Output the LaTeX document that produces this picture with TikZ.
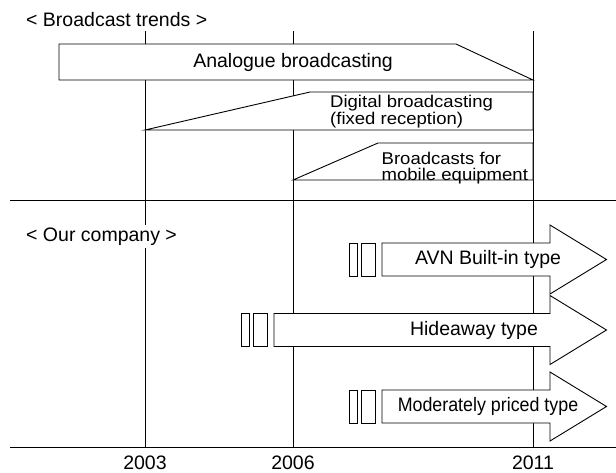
\documentclass[tikz,border=0pt]{standalone}
\usepackage{fontspec}
\setmainfont{Liberation Sans}
\usepackage{graphicx}

% Product timeline arrow: two small bars followed by a block arrow
% #1 name prefix, #2 x of first bar, #3 y of centre line
\newcommand\prodarrow[3]{%
  \draw[panel] (#2,#3-16.5) rectangle ++(8,33);
  \draw[panel] (#2+12,#3-16.5) rectangle ++(14.5,33);
  \draw[panel] (#2+33,#3-16.5) -- (550,#3-16.5) -- (550,#3-34.5)
     -- (606.5,#3) -- (550,#3+34.5) -- (550,#3+16.5) -- (#2+33,#3+16.5) -- cycle;
  \coordinate (#1) at (#2,#3);
}

% Two-line label, slightly widened, aligned on its first baseline
\newcommand\twolines[2]{%
  \scalebox{1.09}[1]{\fontsize{17}{14}\selectfont
    \begin{tabular}[t]{@{}l@{}}#1\\#2\end{tabular}}}

\begin{document}
\begin{tikzpicture}[x=1pt,y=-1pt,
  panel/.style={draw=black,fill=white,line width=0.9pt,line join=miter},
  rule/.style={draw=black,line width=0.9pt},
  big/.style={font=\fontsize{19.5}{22}\selectfont,inner sep=0pt},
  small/.style={inner sep=0pt,anchor=base west},
]
\useasboundingbox (0,0) rectangle (616,472);

% year grid and section rules
\coordinate (t03) at (145,31);  \coordinate (b03) at (145,447);
\coordinate (t06) at (293,31);  \coordinate (b06) at (293,447);
\coordinate (t11) at (533,31);  \coordinate (b11) at (533,447);
\coordinate (sepL) at (10,200); \coordinate (sepR) at (616,200);
\coordinate (axL) at (10,447);  \coordinate (axR) at (616,447);
\draw[rule] (t03) -- (b03);
\draw[rule] (t06) -- (b06);
\draw[rule] (t11) -- (b11);
\draw[rule] (sepL) -- (sepR);
\draw[rule] (axL) -- (axR);

% broadcast trends
\draw[panel] (59,44) -- (456,44) -- (533,80) -- (59,80) -- cycle;
\node[big] (analogue) at (293,62) {Analogue broadcasting};

\draw[panel] (145,130) -- (310,92) -- (533,92) -- (533,130) -- cycle;
\node[small] (digital) at (330,107.5)
  {\twolines{Digital broadcasting}{(fixed reception)}};

\draw[panel] (293,180) -- (378,143) -- (533,143) -- (533,180) -- cycle;
\node[small] (mobile) at (381.5,164)
  {\twolines{Broadcasts for}{mobile equipment}};

% section titles
\node[big,anchor=base west] (trends) at (26,26) {< Broadcast trends >};
\node[big,anchor=base west,fill=white,inner sep=2.5pt] (company) at (23.5,241) {< Our company >};

% our company products
\prodarrow{avn}{349}{259.5}
\node[big] (avnlabel) at (488,259.5) {AVN Built-in type};
\prodarrow{hide}{241}{330}
\node[big] (hidelabel) at (474,330) {Hideaway type};
\prodarrow{mod}{349}{406.5}
\node[big] (modlabel) at (488,406.5) {\scalebox{0.915}[1]{Moderately priced type}};

% years
\node[big] (y03) at (145,462.5) {2003};
\node[big] (y06) at (293,462.5) {2006};
\node[big] (y11) at (533,462.5) {2011};
\end{tikzpicture}
\end{document}
